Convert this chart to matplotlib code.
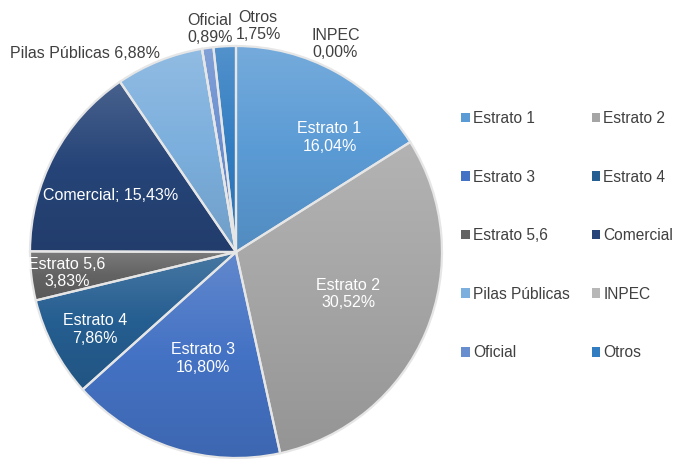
import numpy as np
import matplotlib.pyplot as plt
from matplotlib.patches import Patch
from matplotlib.colors import to_rgb

plt.rcParams['font.family'] = ['Liberation Sans', 'DejaVu Sans']

categorias = ['Estrato 1', 'Estrato 2', 'Estrato 3', 'Estrato 4', 'Estrato 5,6',
              'Comercial', 'Pilas Públicas', 'INPEC', 'Oficial', 'Otros']
porcentajes = [16.04, 30.52, 16.80, 7.86, 3.83, 15.43, 6.88, 0.00, 0.89, 1.75]
colores = ['#5b9bd5', '#a5a5a5', '#4472c4', '#255e91', '#636363',
           '#264478', '#7cafdd', '#b7b7b7', '#698ed0', '#327dc2']

# text of each data label, and where it sits (fractions of the radius)
etiquetas = ['Estrato 1\n16,04%', 'Estrato 2\n30,52%', 'Estrato 3\n16,80%',
             'Estrato 4\n7,86%', 'Estrato 5,6\n3,83%', 'Comercial; 15,43%',
             'Pilas Públicas 6,88%', 'INPEC\n0,00%', 'Oficial\n0,89%', 'Otros\n1,75%']
pos_etiquetas = [(0.454, 0.556), (0.546, -0.205), (-0.161, -0.517),
                 (-0.683, -0.376), (-0.82, -0.102), (-0.61, 0.273),
                 (-0.732, 0.966), (0.483, 1.01), (-0.127, 1.083), (0.107, 1.098)]
dentro = [True, True, True, True, True, True, False, False, False, False]

W, H = 680, 459
fig = plt.figure(figsize=(W / 100, H / 100), dpi=100)

cx, cy, r = 236, 252, 206
ax = fig.add_axes([(cx - r) / W, (H - cy - r) / H, 2 * r / W, 2 * r / H])

wedges, _ = ax.pie(porcentajes, colors=colores, startangle=90, counterclock=False,
                   radius=1, wedgeprops=dict(edgecolor='#e6e6e6', linewidth=1.6))


def degradado(color, n=256):
    # office style fill: lighter on top, a bit darker at the bottom
    c = np.array(to_rgb(color))
    arriba = c + (1 - c) * 0.16
    abajo = c * 0.9
    t = np.linspace(0, 1, n)[:, None]
    filas = np.where(t < 0.5, arriba + (c - arriba) * (t / 0.5),
                     c + (abajo - c) * ((t - 0.5) / 0.5))
    return filas[:, None, :]


for w, col in zip(wedges, colores):
    bb = w.get_path().get_extents(w.get_patch_transform())
    if bb.width <= 0 or bb.height <= 0:
        continue
    im = ax.imshow(degradado(col), extent=[bb.x0, bb.x1, bb.y0, bb.y1],
                   origin='upper', aspect='auto', interpolation='bilinear',
                   zorder=1)
    im.set_clip_path(w)
    w.set_facecolor('none')
    w.set_zorder(2)

ax.set_xlim(-1, 1)
ax.set_ylim(-1, 1)
ax.axis('off')

for txt, (x, y), inside in zip(etiquetas, pos_etiquetas, dentro):
    ax.text(x, y, txt, ha='center', va='center', fontsize=11.5,
            color='white' if inside else '#404040', linespacing=1.2,
            clip_on=False, zorder=3)

# legend filled row by row like the original (matplotlib fills columns)
orden = [0, 2, 4, 6, 8, 1, 3, 5, 7, 9]
handles = [Patch(facecolor=colores[i], edgecolor='none') for i in orden]
labels = [categorias[i] for i in orden]
fig.legend(handles, labels, ncol=2, loc='upper left',
           bbox_to_anchor=(461 / W, 1 - 111 / H), frameon=False,
           fontsize=11.2, labelcolor='#404040', handlelength=0.57,
           handleheight=0.57, handletextpad=0.2, columnspacing=1.4,
           labelspacing=2.8, borderaxespad=0, borderpad=0)

fig.savefig('out.png', dpi=100)
